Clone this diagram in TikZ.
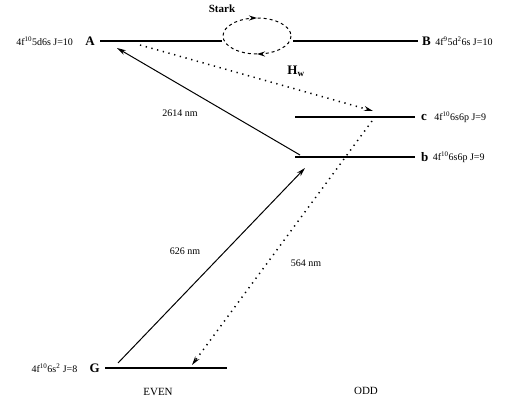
\documentclass[tikz,border=0pt]{standalone}
\usepackage{fontspec}
\setmainfont{Liberation Serif}
\usetikzlibrary{arrows.meta,positioning,decorations.markings}

\begin{document}
\begin{tikzpicture}[
  x=1pt, y=-1pt,
  level/.style={line width=2.8pt},
  trans/.style={-{Stealth[length=9pt,width=5pt]}, line width=1pt},
  dtrans/.style={-{Stealth[length=9pt,width=5pt]}, line width=1.5pt, dash pattern=on 1.3pt off 4.6pt},
  letter/.style={font=\bfseries\fontsize{13}{14}\selectfont, inner sep=1pt},
  config/.style={font=\fontsize{10}{11}\selectfont, inner sep=1pt},
  wave/.style={font=\fontsize{10}{11}\selectfont, inner sep=1pt},
  parity/.style={font=\fontsize{11}{12}\selectfont, inner sep=1pt}
]
\useasboundingbox (0,0) rectangle (512,401);

% energy levels
\coordinate (A1) at (100,41);  \coordinate (A2) at (222,41);
\coordinate (B1) at (293,41);  \coordinate (B2) at (418,41);
\coordinate (c1) at (295,117); \coordinate (c2) at (415,117);
\coordinate (b1) at (295,157); \coordinate (b2) at (415,157);
\coordinate (G1) at (105,368); \coordinate (G2) at (227,368);
\draw[level] (A1) -- (A2);
\draw[level] (B1) -- (B2);
\draw[level] (c1) -- (c2);
\draw[level] (b1) -- (b2);
\draw[level] (G1) -- (G2);

\node[letter, left=4pt of A1] (A) {A};
\node[config, left=10pt of A] (Aconf) {4f\textsuperscript{10}5d6s J=10};
\node[letter, right=3pt of B2] (B) {B};
\node[config, right=2pt of B] (Bconf) {4f\textsuperscript{9}5d\textsuperscript{2}6s J=10};
\node[letter, right=5pt of c2] (c) {c};
\node[config, right=5pt of c] (cconf) {4f\textsuperscript{10}6s6p J=9};
\node[letter, right=5pt of b2] (b) {b};
\node[config, right=2pt of b] (bconf) {4f\textsuperscript{10}6s6p J=9};
\node[letter, left=4pt of G1] (G) {G};
\node[config, left=10pt of G] (Gconf) {4f\textsuperscript{10}6s\textsuperscript{2} J=8};

% Stark mixing loop
\coordinate (loopc) at (257,36);
\draw[dashed, line width=1pt, postaction={decorate}, decoration={markings,
    mark=at position 0.25 with {\arrow{Stealth[length=8pt,width=5pt]}},
    mark=at position 0.75 with {\arrow{Stealth[length=8pt,width=5pt]}}}]
  (loopc) ellipse [x radius=34, y radius=18];
\node[font=\bfseries\fontsize{11}{12}\selectfont] (stark) at (222,9) {Stark};
\node[font=\bfseries\fontsize{13}{14}\selectfont] (hw) at (296,71) {H\textsubscript{w}};

% transitions
\coordinate (s2614) at (300,155); \coordinate (e2614) at (117,48);
\coordinate (s626) at (118,363);  \coordinate (e626) at (305,168);
\coordinate (sAc) at (140,45);    \coordinate (eAc) at (373,111);
\coordinate (s564) at (372,121);  \coordinate (e564) at (192,365);
\draw[trans] (s2614) -- (e2614);
\draw[-{Stealth[length=9pt,width=5pt,fill=gray]}, line width=1pt] (s626) -- (e626);
\draw[dtrans] (sAc) -- (eAc);
\draw[dtrans] (s564) -- (e564);

\node[wave] (l2614) at (180,113) {2614 nm};
\node[wave] (l626) at (185,251) {626 nm};
\node[wave] (l564) at (306,263) {564 nm};

\node[parity] (even) at (158,392) {EVEN};
\node[parity] (odd) at (366,391) {ODD};
\end{tikzpicture}
\end{document}
